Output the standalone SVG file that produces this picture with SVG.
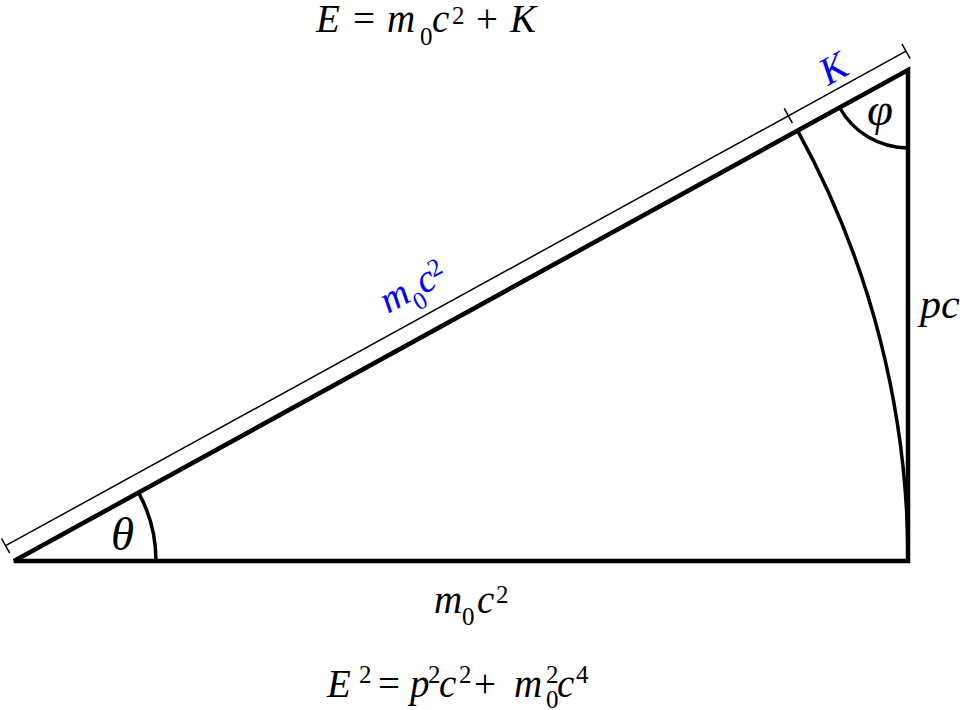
<svg xmlns="http://www.w3.org/2000/svg" width="960" height="710" viewBox="0 0 960 710">
<style>
.t{font-family:"Liberation Serif","Times New Roman",serif;font-style:italic;font-size:39px;fill:#000}
.b{fill:#0000ff}
.s{font-size:25px;font-style:normal}
.n{font-style:normal}
.g{font-size:47px}
.thick{fill:none;stroke:#000;stroke-width:4.5;stroke-linejoin:miter}
.arc{fill:none;stroke:#000;stroke-width:3.5}
.thin{fill:none;stroke:#000;stroke-width:1.5}
</style>
<rect width="960" height="710" fill="#ffffff"/>
<g id="connectors">
<path id="triangle" class="thick" d="M14,561 L908,561 L908,70 Z"/>
<path id="arc-big" class="arc" d="M797.6,130.6 A894,894 0 0 1 908,561"/>
<path id="arc-theta" class="arc" d="M138.5,492.6 A142,142 0 0 1 156,561"/>
<path id="arc-phi" class="arc" d="M839.6,107.5 A78,78 0 0 0 908,148"/>
<g id="dimension">
<path class="thin" d="M5.6,545.7 L906,51.2"/>
<path class="thin" d="M1.5,538.3 L9.7,553.1 M784.2,108.4 L792.4,123.2 M901.9,43.8 L910.1,58.6"/>
</g>
</g>
<g id="label-top"><text class="t" y="32"><tspan x="316">E</tspan><tspan class="n" x="353">=</tspan><tspan x="387">m</tspan><tspan class="s" x="420" dy="13">0</tspan><tspan x="432" dy="-13">c</tspan><tspan class="s" x="452" dy="-8">2</tspan><tspan class="n" x="476" dy="8">+</tspan><tspan x="510">K</tspan></text></g>
<g id="label-base"><text class="t" y="613"><tspan x="434">m</tspan><tspan class="s" x="462" dy="12">0</tspan><tspan x="477" dy="-12">c</tspan><tspan class="s" x="496" dy="-10">2</tspan></text></g>
<g id="label-pc"><text class="t" x="920" y="318" style="font-size:42px">pc</text></g>
<g id="label-theta"><text class="t g" x="111" y="550">θ</text></g>
<g id="label-phi"><text class="t g" x="867" y="125">φ</text></g>
<g id="label-m0c2-blue"><text class="t b" transform="translate(388,314) rotate(-28.78)">m<tspan class="s" dy="12">0</tspan><tspan dy="-12">c</tspan><tspan class="s" dx="-1" dy="-10">2</tspan></text></g>
<g id="label-K"><text class="t b" transform="translate(828,86) rotate(-28.78)">K</text></g>
<g id="label-eq"><text class="t" y="697"><tspan x="327">E</tspan><tspan class="s" x="359" dy="-14">2</tspan><tspan class="n" x="378" dy="14">=</tspan><tspan x="410">p</tspan><tspan class="s" x="428" dy="-14">2</tspan><tspan x="439" dy="14">c</tspan><tspan class="s" x="459" dy="-14">2</tspan><tspan class="n" x="474" dy="14">+</tspan><tspan x="514">m</tspan><tspan class="s" x="546" dy="-14">2</tspan><tspan class="s" x="546" dy="25">0</tspan><tspan x="557" dy="-11">c</tspan><tspan class="s" x="576" dy="-14">4</tspan></text></g>
</svg>
